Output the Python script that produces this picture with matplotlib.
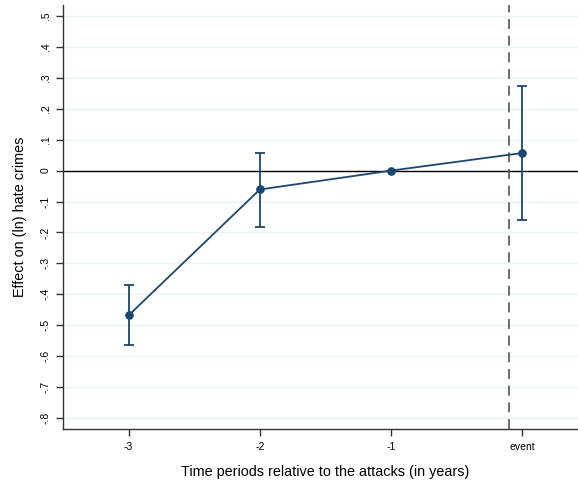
import matplotlib
matplotlib.use("Agg")
import matplotlib.pyplot as plt
import numpy as np

# Event-study estimates with 95% confidence bounds
periods = [-3, -2, -1, 0]
period_labels = ["-3", "-2", "-1", "event"]
estimates = [-0.468, -0.061, 0.0, 0.057]
ci_upper = [-0.371, 0.058, 0.0, 0.275]
ci_lower = [-0.564, -0.181, 0.0, -0.161]
y_ticks = [0.5, 0.4, 0.3, 0.2, 0.1, 0.0, -0.1, -0.2, -0.3, -0.4, -0.5, -0.6, -0.7, -0.8]
event_line = -0.1

navy = "#1a476f"
plt.rcParams["font.family"] = ["Liberation Sans", "DejaVu Sans"]

fig = plt.figure(figsize=(5.78, 4.84), dpi=100)
W, H = 578, 484
x_left, x_right = 63, 588
y_top, y_bot = 5, 429
ax = fig.add_axes([x_left / W, 1 - y_bot / H, (x_right - x_left) / W, (y_bot - y_top) / H])

ax.set_xlim(-3.5, 0.5)
ax.set_ylim(-0.8356, 0.5356)

# light gridlines at each tick, zero line in black
for t in y_ticks:
    if t != 0:
        ax.axhline(t, color="#eaf2f3", lw=1.0, zorder=0)
ax.axhline(0, color="black", lw=1.0, zorder=1)
ax.axvline(event_line, color="#555555", lw=1.2, ls=(0, (6, 4)), zorder=1)

est = np.array(estimates)
yerr = np.vstack([est - np.array(ci_lower), np.array(ci_upper) - est])
ax.errorbar(periods, estimates, yerr=yerr, fmt="none", ecolor=navy, elinewidth=1.3,
            capsize=3.6, capthick=1.3, zorder=3)
ax.plot(periods, estimates, color=navy, lw=1.3, marker="o", ms=5.2, zorder=4)

ax.set_yticks(y_ticks)
ax.set_yticklabels([("%.1f" % t).replace("0.", ".") if t != 0 else "0" for t in y_ticks],
                   rotation=90, va="center", fontsize=7.5)
ax.set_xticks(periods)
ax.set_xticklabels(period_labels, fontsize=7.5)
ax.tick_params(axis="both", direction="out", length=5, width=1, color="#333333", pad=4)

for s in ["top", "right"]:
    ax.spines[s].set_visible(False)
for s in ["left", "bottom"]:
    ax.spines[s].set_color("#333333")
    ax.spines[s].set_linewidth(1.0)

ax.set_ylabel("Effect on (ln) hate crimes", fontsize=10.4, labelpad=10)
ax.set_xlabel("Time periods relative to the attacks (in years)", fontsize=10.4, labelpad=10)

fig.savefig("out.png", dpi=100)
